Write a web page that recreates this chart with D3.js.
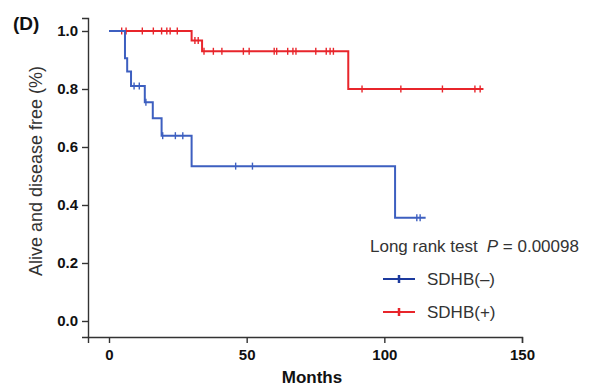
<!DOCTYPE html>
<html>
<head>
<meta charset="utf-8">
<script src="https://cdn.jsdelivr.net/npm/d3@7"></script>
<style>
  body { margin: 0; background: #fff; }
  svg { font-family: "Liberation Sans", Arial, sans-serif; }
</style>
</head>
<body>
<div id="chart"></div>
<script>
// step times (months) and survival after each step
const negTimes = [0, 5.8, 6.6, 8.0, 13.0, 15.9, 19.1, 30.0, 103.9];
const negSurv  = [1.0, 0.906, 0.860, 0.810, 0.754, 0.699, 0.639, 0.534, 0.356];
const negCensor = [9.1, 11.0, 13.4, 19.5, 24.1, 26.8, 46.0, 52.1, 111.8, 113.0];
const negEnd = 115;

const posTimes = [0, 30.0, 33.8, 86.9];
const posSurv  = [1.0, 0.967, 0.930, 0.800];
const posCensor = [4.6, 6.2, 12.1, 16.1, 19.1, 21.0, 22.2, 24.8, 31.2, 32.4, 34.5, 37.9, 41.0,
  48.8, 50.9, 60.0, 60.9, 64.9, 66.8, 67.9, 75.1, 78.9, 80.3, 81.5, 91.9, 106.0, 121.1, 132.9, 134.8];
const posEnd = 136;

const xTicks = [0, 50, 100, 150];
const yTicks = [0, 0.2, 0.4, 0.6, 0.8, 1.0];

const blue = '#3d5fc0', navy = '#1c3a9e', red = '#e8252b';

const width = 593, height = 387;
const svg = d3.select('#chart').append('svg')
  .attr('width', width).attr('height', height);

const x = d3.scaleLinear().domain([-7.63, 150]).range([88, 522]);
const y = d3.scaleLinear().domain([-0.0552, 1.0448]).range([337, 18]);

// axes
const xAxis = svg.append('g')
  .attr('transform', 'translate(0,337)')
  .call(d3.axisBottom(x).tickValues(xTicks).tickSizeOuter(0).tickSize(6).tickPadding(6).tickFormat(d3.format('d')));
const yAxis = svg.append('g')
  .attr('transform', 'translate(88,0)')
  .call(d3.axisLeft(y).tickValues(yTicks).tickSizeOuter(0).tickSize(6).tickPadding(4).tickFormat(d3.format('.1f')));

[xAxis, yAxis].forEach(a => {
  a.select('.domain').attr('stroke', '#333').attr('stroke-width', 1.4);
  a.selectAll('.tick line').attr('stroke', '#333').attr('stroke-width', 1.4);
  a.selectAll('.tick text').attr('fill', '#111')
    .style('font-size', '15px').style('font-weight', 'bold')
    .style('font-family', '"Liberation Sans", Arial, sans-serif');
});

function survAt(times, surv, t) {
  let s = surv[0];
  for (let i = 0; i < times.length; i++) if (times[i] <= t) s = surv[i];
  return s;
}

function drawCurve(times, surv, censor, end, color) {
  const pts = [];
  times.forEach((t, i) => {
    if (i > 0) pts.push([t, surv[i - 1]]);
    pts.push([t, surv[i]]);
  });
  pts.push([end, surv[surv.length - 1]]);
  svg.append('path')
    .attr('d', d3.line().x(d => x(d[0])).y(d => y(d[1]))(pts))
    .attr('fill', 'none').attr('stroke', color).attr('stroke-width', 2);
  svg.append('g').selectAll('line').data(censor).enter().append('line')
    .attr('x1', d => x(d)).attr('x2', d => x(d))
    .attr('y1', d => y(survAt(times, surv, d)) - 3.5)
    .attr('y2', d => y(survAt(times, surv, d)) + 3.5)
    .attr('stroke', color).attr('stroke-width', 1.4);
}

drawCurve(posTimes, posSurv, posCensor, posEnd, red);
drawCurve(negTimes, negSurv, negCensor, negEnd, blue);

// labels
svg.append('text').attr('x', 13).attr('y', 30)
  .style('font-size', '19px').style('font-weight', 'bold').attr('fill', '#111').text('(D)');

svg.append('text')
  .attr('transform', 'translate(42,171) rotate(-90)')
  .attr('text-anchor', 'middle')
  .style('font-size', '18px').attr('fill', '#333')
  .text('Alive and disease free (%)');

svg.append('text').attr('x', 312).attr('y', 383).attr('text-anchor', 'middle')
  .style('font-size', '17px').style('font-weight', 'bold').attr('fill', '#111').text('Months');

const pt = svg.append('text').attr('x', 370).attr('y', 252)
  .style('font-size', '17px').attr('fill', '#333');
pt.append('tspan').text('Long rank test');
pt.append('tspan').attr('dx', 9).style('font-style', 'italic').text('P');
pt.append('tspan').text(' = 0.00098');

// legend
const legend = [{ name: 'SDHB(\u2013)', color: navy }, { name: 'SDHB(+)', color: red }];
const lg = svg.append('g').selectAll('g').data(legend).enter().append('g')
  .attr('transform', (d, i) => `translate(383,${279 + i * 33})`);
lg.append('line').attr('x1', 0).attr('x2', 32).attr('y1', 0).attr('y2', 0)
  .attr('stroke', d => d.color).attr('stroke-width', 2);
lg.append('line').attr('x1', 16).attr('x2', 16).attr('y1', -4).attr('y2', 4)
  .attr('stroke', d => d.color).attr('stroke-width', 2.5);
lg.append('text').attr('x', 44).attr('y', 6)
  .style('font-size', '17px').attr('fill', '#333').text(d => d.name);
</script>
</body>
</html>
